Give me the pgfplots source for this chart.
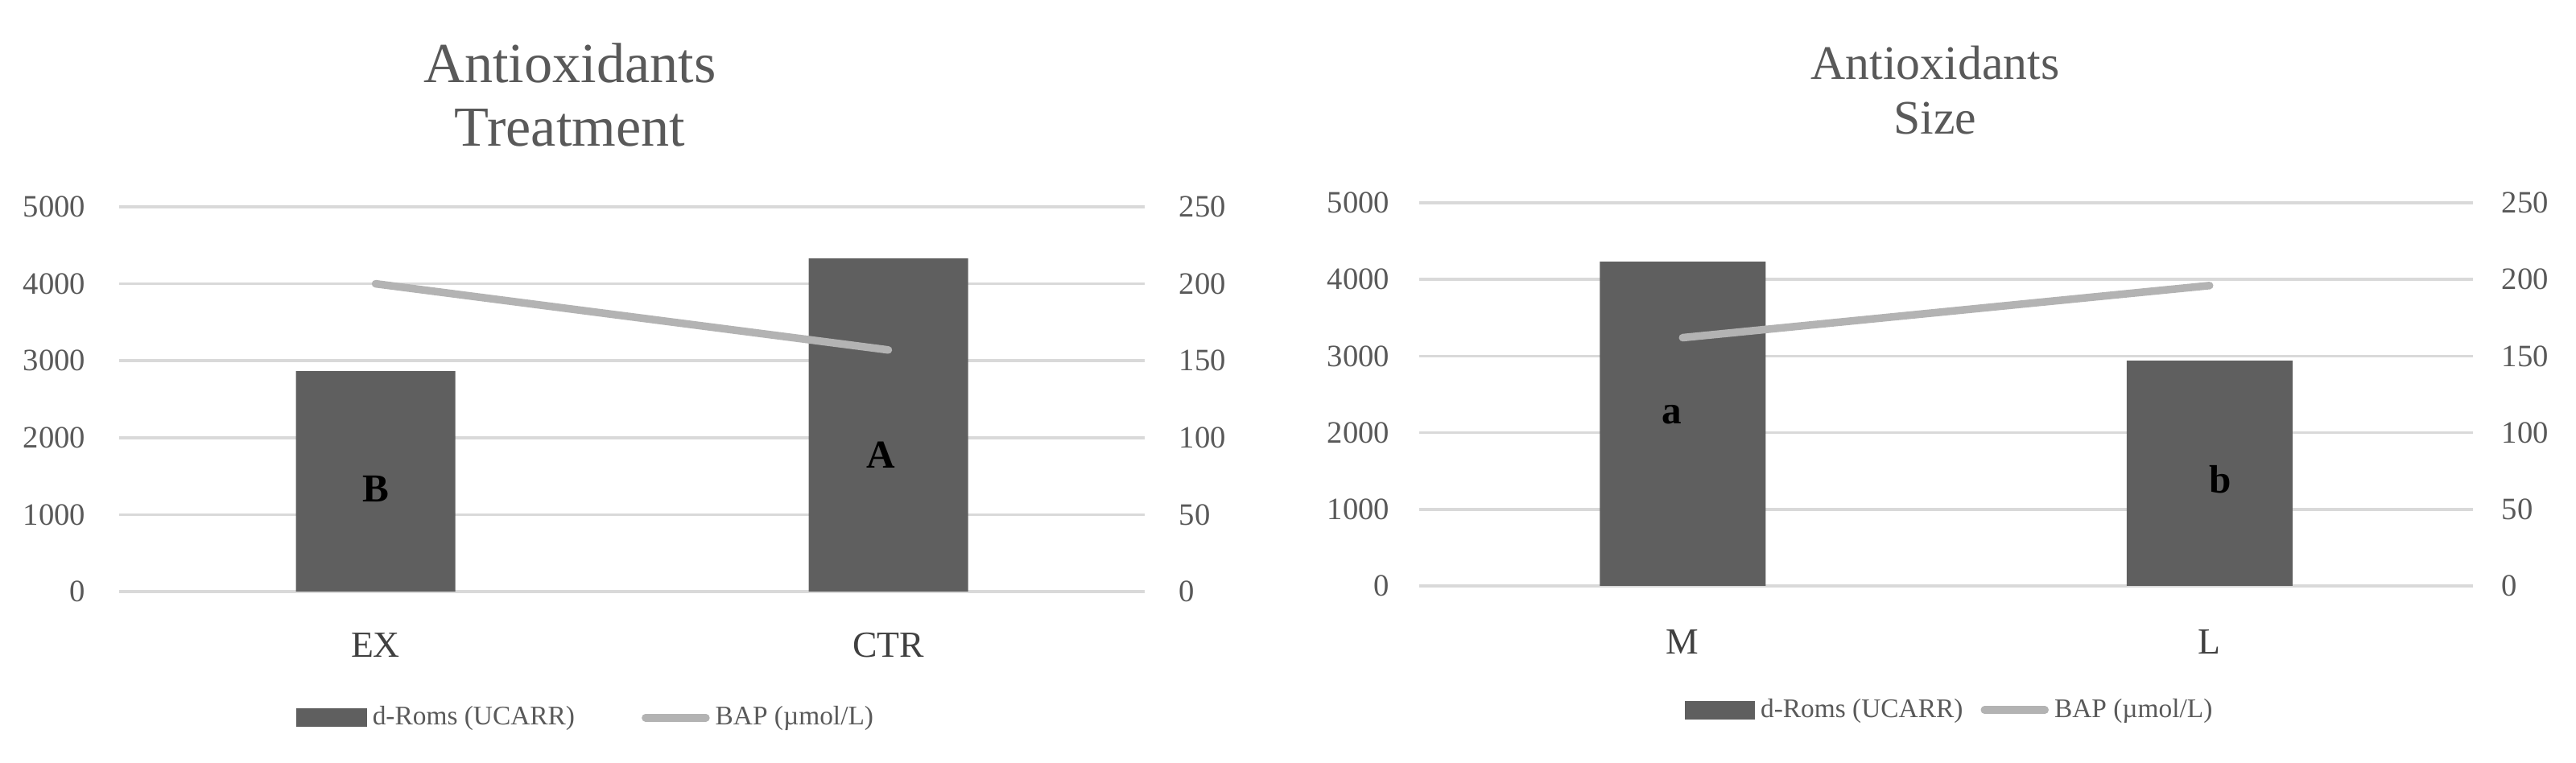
\documentclass[border=0pt]{standalone}
\usepackage{fontspec}
\setmainfont{Liberation Serif}
\usepackage{pgfplots}
\pgfplotsset{compat=1.18}

\definecolor{barC}{HTML}{5F5F5F}
\definecolor{lineC}{HTML}{B3B3B3}
\definecolor{gridC}{HTML}{D9D9D9}
\definecolor{textC}{HTML}{595959}
\definecolor{catC}{HTML}{404040}

\pgfplotsset{
  base/.style={
    scale only axis,
    xmin=-0.5, xmax=1.5,
    axis line style={draw=none},
    major tick length=0pt,
    /pgf/number format/assume math mode=true,
    /pgf/number format/1000 sep={},
    tick label style={font=\fontsize{11}{13}\selectfont, text=textC},
  },
  legbar/.style={legend image code/.code={\fill[barC] (0mm,-1.1mm) rectangle (8.6mm,1.1mm);}},
  legline/.style={legend image code/.code={\draw[lineC, line width=0.95mm, line cap=round] (0mm,0mm) -- (7.5mm,0mm);}},
}

\begin{document}
\begin{tikzpicture}
\useasboundingbox (0,0) rectangle (320mm,94.8mm);

% ---- titles
\node[font=\fontsize{20}{24}\selectfont, text=textC] at (70.8mm,87.0mm) {Antioxidants};
\node[font=\fontsize{20}{24}\selectfont, text=textC] at (70.8mm,78.9mm) {Treatment};
\node[font=\fontsize{17}{20}\selectfont, text=textC] at (240.4mm,87.0mm) {Antioxidants};
\node[font=\fontsize{17}{20}\selectfont, text=textC] at (240.4mm,80.1mm) {Size};

% ================= left chart: treatment
\begin{axis}[base,
  at={(14.8mm,21.3mm)}, anchor=south west,
  width=127.4mm, height=47.8mm,
  ymin=0, ymax=5000, ytick={0,1000,...,5000},
  ymajorgrids, grid style={gridC, line width=0.35mm},
  xtick={0,1}, xticklabels={EX,CTR},
  xticklabel style={anchor=center, yshift=-6.7mm, font=\fontsize{13}{15}\selectfont, text=catC},
  yticklabel style={anchor=east, inner sep=0pt, xshift=-4.1mm},
  ybar, bar width=19.8mm,
]
\addplot[fill=barC, draw=none] coordinates {(0,2865) (1,4330)};
\node[font=\bfseries\fontsize{14}{16}\selectfont] at (axis cs:0,1330) {B};
\node[font=\bfseries\fontsize{14}{16}\selectfont] at (axis cs:0.985,1780) {A};
\end{axis}
\begin{axis}[base,
  at={(14.8mm,21.3mm)}, anchor=south west,
  width=127.4mm, height=47.8mm,
  hide x axis, axis y line*=right,
  ymin=0, ymax=250, ytick={0,50,...,250},
  yticklabel style={anchor=west, inner sep=0pt, xshift=4.2mm},
  legend columns=2,
  legend style={draw=none, fill=none, at={(0.457,-0.328)}, anchor=center,
    font=\fontsize{9.5}{11}\selectfont, text=textC,
    /tikz/every even column/.append style={column sep=7.6mm}},
]
\addlegendimage{legbar}
\addlegendentry{d-Roms (UCARR)}
\addplot[lineC, line width=0.95mm, line cap=round, legline]
  coordinates {(0,200) (1,157)};
\addlegendentry{BAP (µmol/L)}
\end{axis}

% ================= right chart: size
\begin{axis}[base,
  at={(176.3mm,22.0mm)}, anchor=south west,
  width=130.9mm, height=47.6mm,
  ymin=0, ymax=5000, ytick={0,1000,...,5000},
  ymajorgrids, grid style={gridC, line width=0.35mm},
  xtick={0,1}, xticklabels={M,L},
  xticklabel style={anchor=center, yshift=-7.0mm, font=\fontsize{13}{15}\selectfont, text=catC},
  yticklabel style={anchor=east, inner sep=0pt, xshift=-3.6mm},
  ybar, bar width=20.6mm,
]
\addplot[fill=barC, draw=none] coordinates {(0,4233) (1,2941)};
\node[font=\bfseries\fontsize{14}{16}\selectfont] at (axis cs:-0.02,2230) {a};
\node[font=\bfseries\fontsize{14}{16}\selectfont] at (axis cs:1.02,1390) {b};
\end{axis}
\begin{axis}[base,
  at={(176.3mm,22.0mm)}, anchor=south west,
  width=130.9mm, height=47.6mm,
  hide x axis, axis y line*=right,
  ymin=0, ymax=250, ytick={0,50,...,250},
  yticklabel style={anchor=west, inner sep=0pt, xshift=3.5mm},
  legend columns=2,
  legend style={draw=none, fill=none, at={(0.505,-0.324)}, anchor=center,
    font=\fontsize{9.5}{11}\selectfont, text=textC,
    /tikz/every even column/.append style={column sep=1.5mm}},
]
\addlegendimage{legbar}
\addlegendentry{d-Roms (UCARR)}
\addplot[lineC, line width=0.95mm, line cap=round, legline]
  coordinates {(0,162) (1,196)};
\addlegendentry{BAP (µmol/L)}
\end{axis}
\end{tikzpicture}
\end{document}
